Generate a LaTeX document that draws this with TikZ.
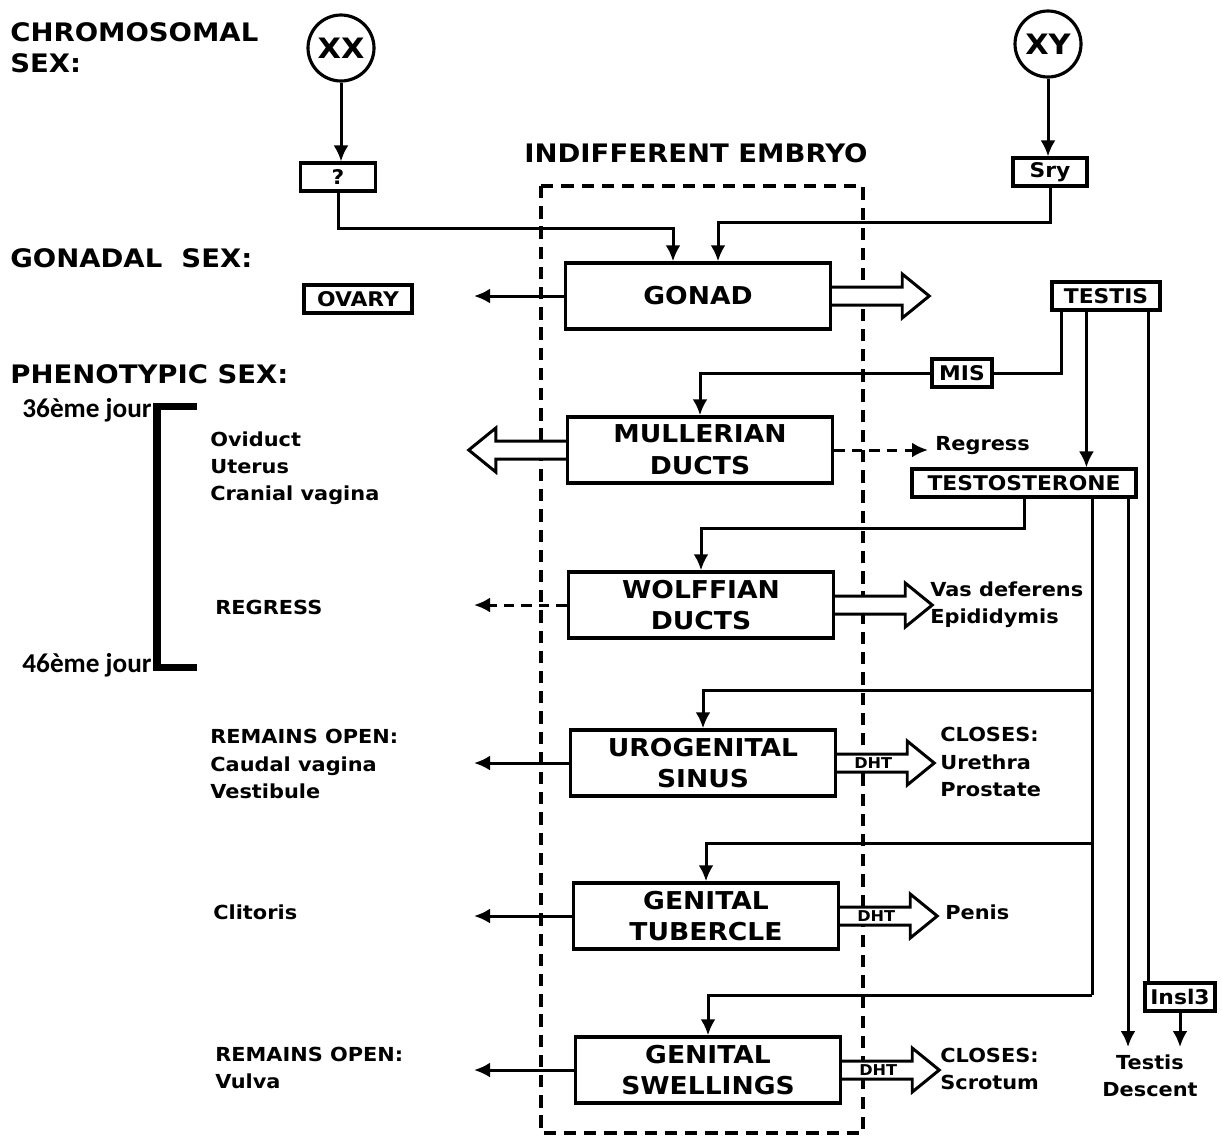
\documentclass[tikz,border=0pt]{standalone}
\usepackage{fontspec}
\setmainfont{DejaVu Sans}[FakeStretch=1.08]
\newfontfamily\jourfamily{Carlito}
\usetikzlibrary{arrows.meta}

\newcommand{\headfont}{\bfseries\fontsize{14.5}{18}\selectfont}
\newcommand{\boxfont}{\bfseries\fontsize{14}{18}\selectfont}
\newcommand{\chromfont}{\bfseries\fontsize{16}{18}\selectfont}
\newcommand{\tagfont}{\bfseries\fontsize{11.5}{13}\selectfont}
\newcommand{\notefont}{\bfseries\fontsize{11}{15.5}\selectfont}
\newcommand{\dhtfont}{\bfseries\fontsize{8.5}{9}\selectfont}
\newcommand{\jourfont}{\jourfamily\bfseries\fontsize{15.5}{17}\selectfont}

\tikzset{
  heading/.style={inner sep=0pt, align=left, font=\headfont},
  note/.style={inner sep=0pt, anchor=west, align=left, font=\notefont},
  organ/.style={draw, line width=2pt, minimum width=5.3cm, minimum height=1.32cm, align=center, font=\boxfont},
  tagbox/.style={draw, line width=1.8pt, minimum height=0.56cm, inner sep=1pt, font=\tagfont},
  chromo/.style={draw, circle, line width=1.8pt, minimum size=1.32cm, inner sep=0pt, font=\chromfont},
  link/.style={line width=1.7pt, ->},
  plain/.style={line width=1.7pt},
  fatarrow/.pic={
    \draw[line width=1.7pt, fill=white] (0,-9) -- (70,-9) -- (70,-22) -- (97,0) -- (70,22) -- (70,9) -- (0,9);
    \node[font=\dhtfont, inner sep=0pt] (-lbl) at (36,0) {#1};
  },
  fatarrow/.default={}
}

\begin{document}
\begin{tikzpicture}[x=0.02cm, y=-0.02cm, >={Latex[length=3.2mm,width=3mm]}]
  \useasboundingbox (0,0) rectangle (1222,1137);

  % row titles
  \node[heading, anchor=north west] (chromTitle) at (10,22) {CHROMOSOMAL\\SEX:};
  \node[heading, anchor=west] (gonTitle) at (10,258) {GONADAL~~SEX:};
  \node[heading, anchor=west] (phenTitle) at (10,374) {PHENOTYPIC SEX:};
  \node[heading] (embTitle) at (696,153) {INDIFFERENT EMBRYO};

  % indifferent embryo
  \draw[line width=2.2pt, dash pattern=on 7pt off 4.5pt] (541,186) rectangle (863,1133);

  % chromosomes and genes
  \node[chromo] (xx) at (341,48) {XX};
  \node[chromo] (xy) at (1048,44) {XY};
  \node[tagbox, minimum width=1.5cm] (q) at (338,177) {?};
  \node[tagbox, minimum width=1.48cm] (sry) at (1050,172) {Sry};

  % organs
  \node[organ] (gonad) at (698,296) {GONAD};
  \node[organ] (mull) at (700,450) {MULLERIAN\\DUCTS};
  \node[organ] (wolff) at (701,605) {WOLFFIAN\\DUCTS};
  \node[organ] (uro) at (703,763) {UROGENITAL\\SINUS};
  \node[organ] (tub) at (706,916) {GENITAL\\TUBERCLE};
  \node[organ] (swell) at (708,1070) {GENITAL\\SWELLINGS};

  % hormones
  \node[tagbox, minimum width=2.16cm] (ovary) at (358,299) {OVARY};
  \node[tagbox, minimum width=2.16cm] (testis) at (1106,296) {TESTIS};
  \node[tagbox, minimum width=1.2cm] (mis) at (962,373) {MIS};
  \node[tagbox, minimum width=4.48cm] (testo) at (1024,483) {TESTOSTERONE};
  \node[tagbox, minimum width=1.4cm] (insl) at (1180,997) {Insl3};

  % female side
  \node[note] (femMull) at (210,468) {Oviduct\\Uterus\\Cranial vagina};
  \node[note] (femWolff) at (215,607) {REGRESS};
  \node[note] (femUro) at (210,764) {REMAINS OPEN:\\Caudal vagina\\Vestibule};
  \node[note] (femTub) at (213,912) {Clitoris};
  \node[note] (femSwell) at (215,1068) {REMAINS OPEN:\\Vulva};

  % male side
  \node[note] (regress) at (935,446) {Regress};
  \node[note] (maleWolff) at (930,605) {Vas deferens\\Epididymis};
  \node[note] (maleUro) at (940,762) {CLOSES:\\Urethra\\Prostate};
  \node[note] (maleTub) at (945,912) {Penis};
  \node[note] (maleSwell) at (940,1069) {CLOSES:\\Scrotum};
  \node[note, anchor=center, align=center] (descent) at (1150,1076) {Testis\\Descent};

  % days
  \node[font=\jourfont, inner sep=0pt, anchor=east] (d36) at (152,410) {36ème jour};
  \node[font=\jourfont, inner sep=0pt, anchor=east] (d46) at (152,665) {46ème jour};
  \draw[line width=4pt] (197,406) -- (157,406) -- (157,667) -- (197,667);

  % helper points
  \coordinate (femEnd) at (474,0);
  \coordinate (maleEnd) at (928,0);
  \coordinate (misTop) at ([xshift=0.22cm]testis.south west);
  \coordinate (testoTop) at ([xshift=0.72cm]testis.south west);
  \coordinate (inslTop) at ([xshift=0.1cm]insl.north west);
  \coordinate (b1) at (1092,690);
  \coordinate (b2) at (1092,843);
  \coordinate (b3) at (1092,995);
  \coordinate (desc) at (1128,1047);

  % chromosomal to gonadal
  \draw[link] (xx.south) -- (xx.south |- q.north);
  \draw[link] (xy.south) -- (xy.south |- sry.north);
  \draw[link] (q.south) -- ++(0,36) -| ([xshift=-0.5cm]gonad.north);
  \draw[link] (sry.south) -- ++(0,35) -| ([xshift=0.4cm]gonad.north);

  % gonad outputs
  \draw[link] (gonad.west) -- (gonad.west -| femEnd);
  \pic (gonadOut) at (gonad.east) {fatarrow};

  % testis signals
  \draw[plain] (misTop) |- (mis.east);
  \draw[link] (mis.west) -| (mull.north);
  \draw[link] (testoTop) -- (testoTop |- testo.north);
  \draw[plain] (testis.south -| inslTop) -- (inslTop);
  \draw[link] (insl.south) -- (insl.south |- desc);

  % mullerian
  \pic[xscale=-1] (mullOut) at (mull.west) {fatarrow};
  \draw[link, dash pattern=on 6pt off 4pt] (mull.east) -- (mull.east -| maleEnd);

  % wolffian
  \draw[link] (testo.south) -- ++(0,30) -| (wolff.north);
  \draw[link, dash pattern=on 6pt off 4pt] (wolff.west) -- (wolff.west -| femEnd);
  \pic (wolffOut) at (wolff.east) {fatarrow};

  % testosterone bus
  \draw[plain] (testo.south -| b1) -- (b3);
  \draw[link] (b1) -| (uro.north);
  \draw[link] (b2) -| (tub.north);
  \draw[link] (b3) -| (swell.north);
  \draw[link] (testo.south -| desc) -- (desc);

  % external genitalia
  \draw[link] (uro.west) -- (uro.west -| femEnd);
  \draw[link] (tub.west) -- (tub.west -| femEnd);
  \draw[link] (swell.west) -- (swell.west -| femEnd);
  \pic (uroOut) at (uro.east) {fatarrow=DHT};
  \pic (tubOut) at (tub.east) {fatarrow=DHT};
  \pic (swellOut) at (swell.east) {fatarrow=DHT};
\end{tikzpicture}
\end{document}
